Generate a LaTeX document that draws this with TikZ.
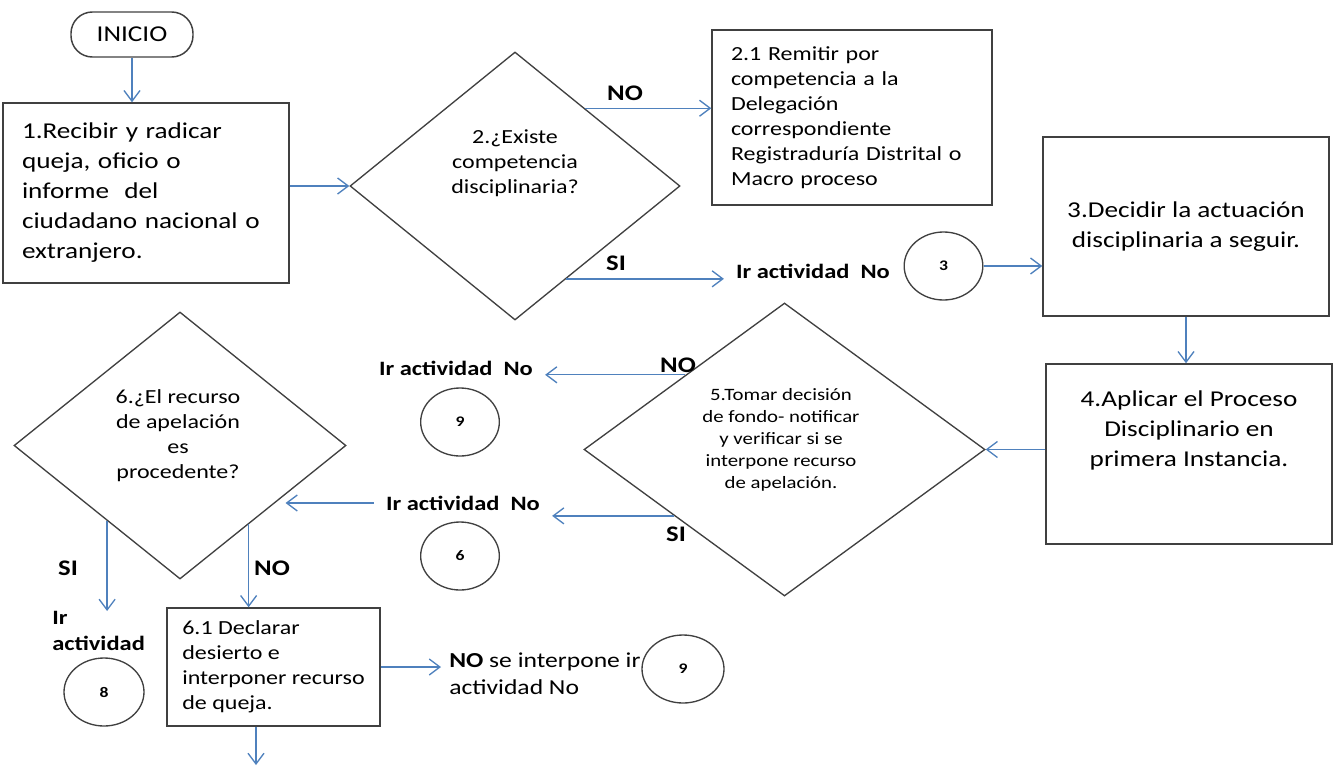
\documentclass[tikz,border=0pt]{standalone}
\usepackage{fontspec}
\setmainfont{Carlito}[FakeStretch=1.2]
\usetikzlibrary{shapes.geometric,arrows.meta}
\definecolor{flowblue}{RGB}{79,129,189}
\definecolor{edgegray}{RGB}{64,64,64}

\begin{document}
\begin{tikzpicture}[x=0.75pt,y=0.75pt,yscale=-1,xscale=1,
  box/.style={draw=edgegray,line width=1.1pt,inner sep=0pt},
  decision/.style={diamond,draw=edgegray,line width=1pt,inner sep=0pt},
  connector/.style={ellipse,draw=edgegray,line width=1pt,inner sep=0pt,minimum width=59pt,minimum height=51pt,font=\fontsize{11}{13}\selectfont\bfseries},
  flow/.style={draw=flowblue,line width=1pt,-{Straight Barb[length=8pt,width=12pt,line width=1pt]}},
  goto/.style={inner xsep=9pt,inner ysep=0pt,font=\fontsize{15.3}{19.5}\selectfont\bfseries},
  answer/.style={inner sep=0pt,font=\fontsize{16.7}{20}\selectfont\bfseries},
  bigtext/.style={font=\fontsize{17}{22.5}\selectfont},
  midtext/.style={font=\fontsize{15}{18.75}\selectfont},
  smalltext/.style={font=\fontsize{13}{16.5}\selectfont},
]
\useasboundingbox (0,0) rectangle (1337,771);

%Shape: Terminal [id:inicio]
\draw (132,34.5) node[box,rounded corners=16pt,minimum width=91.5pt,minimum height=33.75pt,bigtext] (inicio) {INICIO};
%Shape: Rectangle [id:recibir]
\draw (146,193) node[box,minimum width=214.5pt,minimum height=135pt,text width=186pt,align=left,bigtext] (recibir) {1.Recibir y radicar\\ queja, oficio o\\ informe~~del\\ ciudadano nacional o\\ extranjero.};
%Shape: Diamond [id:existe]
\draw (515,186) node[decision,minimum width=247.5pt,minimum height=201pt] (existe) {};
% Text Node
\draw (515,163) node[midtext,align=center,inner sep=0pt] (existetxt) {2.¿Existe\\ competencia\\ disciplinaria?};
%Shape: Rectangle [id:remitir]
\draw (852,117.5) node[box,minimum width=210pt,minimum height=131.25pt,text width=181.5pt,align=left,midtext] (remitir) {2.1 Remitir por\\ competencia a la\\ Delegación\\ correspondiente\\ Registraduría Distrital o\\ Macro proceso};
% Text Node
\draw (813,271) node[goto] (iract3) {Ir actividad~~No};
%Shape: Ellipse [id:cero3]
\draw (943.5,266) node[connector] (cero3) {3};
%Shape: Rectangle [id:decidir]
\draw (1186,226.5) node[box,minimum width=214.5pt,minimum height=134.25pt,align=center,bigtext] (decidir) {3.Decidir la actuación\\ disciplinaria a seguir.};
%Shape: Rectangle [id:aplicar]
\draw (1189,454) node[box,minimum width=214.5pt,minimum height=135pt] (aplicar) {};
% Text Node
\draw (1189,430) node[bigtext,align=center,inner sep=0pt] (aplicartxt) {4.Aplicar el Proceso\\ Disciplinario en\\ primera Instancia.};
%Shape: Diamond [id:tomar]
\draw (784.5,449.5) node[decision,minimum width=300.75pt,minimum height=219.75pt] (tomar) {};
% Text Node
\draw (781,439.5) node[smalltext,align=center,inner sep=0pt] (tomartxt) {5.Tomar decisión\\ de fondo- notificar\\ y verificar si se\\ interpone recurso\\ de apelación.};
% Text Node
\draw (456,368) node[goto] (iract9a) {Ir actividad~~No};
%Shape: Ellipse [id:cero9a]
\draw (460,422) node[connector] (cero9a) {9};
% Text Node
\draw (463,503) node[goto] (iract6) {Ir actividad~~No};
%Shape: Ellipse [id:cero6]
\draw (460,556) node[connector] (cero6) {6};
%Shape: Diamond [id:recurso]
\draw (180,445.5) node[decision,minimum width=249pt,minimum height=200.25pt] (recurso) {};
% Text Node
\draw (178,435.5) node[midtext,align=center,inner sep=0pt] (recursotxt) {6.¿El recurso\\ de apelación\\ es\\ procedente?};
% Text Node
\draw (52,611) node[anchor=north west,goto,inner xsep=0pt,align=left] (iract8) {Ir\\ actividad};
%Shape: Ellipse [id:cero8]
\draw (104,692) node[connector,minimum width=60pt] (cero8) {8};
%Shape: Rectangle [id:declarar]
\draw (273.5,667) node[box,minimum width=159.75pt,minimum height=88.5pt,align=left,midtext] (declarar) {6.1 Declarar\\ desierto e\\ interponer recurso\\ de queja.};
% Text Node
\draw (441,673.5) node[anchor=west,inner xsep=6pt,inner ysep=0pt,align=left,font=\fontsize{16}{20.25}\selectfont] (nose) {\textbf{NO} se interpone ir\\ actividad No};
%Shape: Ellipse [id:cero9b]
\draw (683,669) node[connector,minimum width=61.5pt] (cero9b) {9};

% Answer labels
\draw (625,93) node[answer] (no2) {NO};
\draw (616,263) node[answer] (si2) {SI};
\draw (678,365) node[answer] (no5) {NO};
\draw (676,534) node[answer] (si5) {SI};
\draw (68,568) node[answer] (si6) {SI};
\draw (272,568) node[answer] (no6) {NO};

%Straight Lines
\draw[flow] (inicio.south) -- (inicio.south |- recibir.north);
\draw[flow] (recibir.east |- existe.west) -- (existe.west);
\draw[flow] (existe.48) -- (existe.48 -| remitir.west);
\draw[flow] (existe.-61) -- (existe.-61 -| iract3.west);
\draw[flow] (cero3.east) -- (cero3.east -| decidir.west);
\draw[flow] (decidir.south) -- (decidir.south |- aplicar.north);
\draw[flow] (aplicar.west |- tomar.east) -- (tomar.east);
\draw[flow] (tomar.143) -- (tomar.143 -| iract9a.east);
\draw[flow] (tomar.-149) -- (tomar.-149 -| iract6.east);
\draw[flow] (iract6.west) -- (iract6.west -| recurso.-25);
\draw[flow] (recurso.-134) -- (recurso.-134 |- iract8.north);
\draw[flow] (recurso.-49) -- (recurso.-49 |- declarar.north);
\draw[flow] (declarar.east) -- (declarar.east -| nose.west);
\coordinate (sigue) at (256,765);
\draw[flow] (declarar.south -| sigue) -- (sigue);

\end{tikzpicture}
\end{document}
